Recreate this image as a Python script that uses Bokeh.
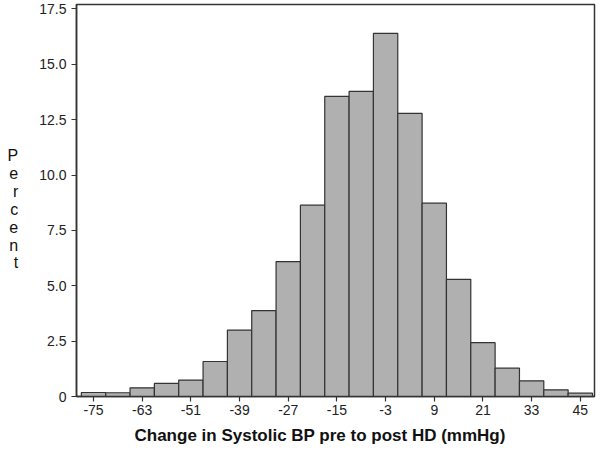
from bokeh.plotting import figure
from bokeh.models import Range1d, FixedTicker, CustomJSTickFormatter, Title
from bokeh.embed import file_html
from bokeh.resources import INLINE

# Data
bin_centers = [-75, -69, -63, -57, -51, -45, -39, -33, -27, -21, -15, -9, -3, 3, 9, 15, 21, 27, 33, 39, 45]
percent = [0.18, 0.17, 0.39, 0.59, 0.74, 1.58, 3.00, 3.88, 6.09, 8.64, 13.55, 13.78, 16.40, 12.78,
           8.73, 5.29, 2.43, 1.28, 0.71, 0.30, 0.15]
bin_width = 6
x_tick_values = [-75, -63, -51, -39, -27, -15, -3, 9, 21, 33, 45]
y_tick_values = [0, 2.5, 5.0, 7.5, 10.0, 12.5, 15.0, 17.5]
x_label = "Change in Systolic BP pre to post HD (mmHg)"
y_label = "Percent"

p = figure(width=600, height=455, output_backend="svg", toolbar_location=None,
           x_range=Range1d(-79.2, 48.5), y_range=Range1d(0, 17.7),
           min_border_left=76, min_border_right=6, min_border_top=4, min_border_bottom=0)

p.vbar(x=bin_centers, top=percent, width=bin_width, bottom=0,
       fill_color="#b0b0b0", line_color="#333333", line_width=1.2)

p.xgrid.visible = False
p.ygrid.visible = False
p.outline_line_color = "#333333"
p.outline_line_width = 1.5
p.background_fill_color = "white"
p.border_fill_color = "white"

font = "Liberation Sans"
for ax in (p.xaxis[0], p.yaxis[0]):
    ax.axis_line_color = "#333333"
    ax.axis_line_width = 1.5
    ax.major_tick_line_color = "#333333"
    ax.major_tick_line_width = 1.2
    ax.major_tick_in = 0
    ax.major_tick_out = 5
    ax.minor_tick_line_color = None
    ax.major_label_text_font = font
    ax.major_label_text_font_size = "14px"
    ax.major_label_text_color = "#222222"

p.xaxis.ticker = FixedTicker(ticks=x_tick_values)
p.yaxis.ticker = FixedTicker(ticks=y_tick_values)
p.xaxis.formatter = CustomJSTickFormatter(code="return tick.toFixed(0);")
p.yaxis.formatter = CustomJSTickFormatter(code="return tick == 0 ? '0' : tick.toFixed(1);")
p.xaxis.major_label_standoff = 3
p.yaxis.major_label_standoff = 5

xt = Title(text=x_label, align="left", offset=58, text_font=font, text_font_style="bold",
           text_font_size="17px", text_color="#111111", standoff=17, vertical_align="top")
p.add_layout(xt, "below")

p.yaxis.axis_label = "\n" + "\n".join(list(y_label))
p.yaxis.axis_label_orientation = "horizontal"
p.yaxis.axis_label_text_font = font
p.yaxis.axis_label_text_font_style = "normal"
p.yaxis.axis_label_text_font_size = "16px"
p.yaxis.axis_label_text_line_height = 1.05
p.yaxis.axis_label_text_color = "#111111"
p.yaxis.axis_label_standoff = 18

open("out.html", "w").write(file_html(p, INLINE))
